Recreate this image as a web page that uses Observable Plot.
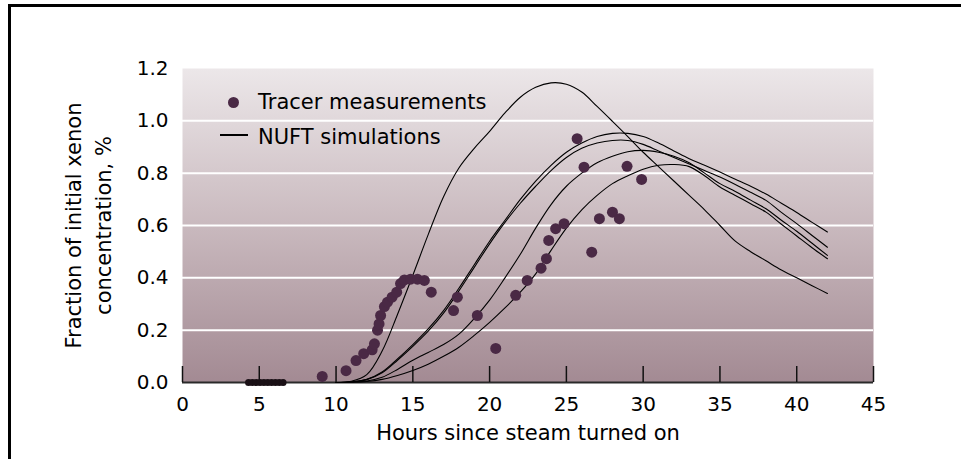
<!DOCTYPE html>
<html>
<head>
<meta charset="utf-8">
<script src="https://cdn.jsdelivr.net/npm/d3@7"></script>
<script src="https://cdn.jsdelivr.net/npm/@observablehq/plot@0.6"></script>
<style>
  html, body { margin: 0; padding: 0; background: #fff; overflow: hidden; }
  #wrap { position: relative; width: 961px; height: 459px; }
  #wrap svg { position: absolute; left: 0; top: 0; }
  .border { position: absolute; left: 8px; top: 4px; width: 2000px; height: 2000px;
            border-top: 3px solid #000; border-left: 3px solid #000; pointer-events: none; }
  .lg { position: absolute; font-family: "DejaVu Sans", sans-serif; font-size: 21px; line-height: 21px; color: #000; white-space: nowrap; }
  .lg-dot { position: absolute; width: 11px; height: 11px; border-radius: 50%; background: #4a2945; }
  .lg-line { position: absolute; height: 2px; background: #000; }
</style>
</head>
<body>
<div id="wrap"></div>
<script>
// ---- axis ticks / categories ----
const xTicks = [0, 5, 10, 15, 20, 25, 30, 35, 40, 45];
const yTicks = [0, 0.2, 0.4, 0.6, 0.8, 1.0, 1.2];
const gridValues = [0.2, 0.4, 0.6, 0.8, 1.0];

// ---- tracer measurements ----
const tracerHours = [9.1, 10.65, 11.3, 11.8, 12.35, 12.5, 12.7, 12.8, 12.9, 13.15, 13.35, 13.65, 13.95, 14.2, 14.45, 14.85, 15.3, 15.75, 16.2, 17.65, 17.9, 19.2, 20.4, 21.7, 22.45, 23.35, 23.7, 23.85, 24.3, 24.85, 25.7, 26.15, 26.65, 27.15, 28.0, 28.45, 28.95, 29.9];
const tracerValues = [0.023, 0.045, 0.084, 0.11, 0.125, 0.148, 0.2, 0.224, 0.256, 0.29, 0.307, 0.326, 0.345, 0.378, 0.392, 0.395, 0.395, 0.39, 0.345, 0.275, 0.326, 0.256, 0.13, 0.333, 0.39, 0.437, 0.473, 0.543, 0.588, 0.607, 0.932, 0.823, 0.498, 0.626, 0.651, 0.626, 0.826, 0.776];
// readings at zero before the steam front arrived
const zeroHours = [4.3, 4.55, 4.8, 5.05, 5.3, 5.55, 5.8, 6.05, 6.3, 6.55];

// ---- NUFT simulations ----
const simHours = [10, 11, 12, 13, 14, 15, 16, 17, 18, 19, 20, 21, 22, 23, 24, 25, 26, 27, 28, 29, 30, 31, 32, 33, 34, 35, 36, 37, 38, 39, 40, 41, 42];
const simA = [0, 0.005, 0.03, 0.12, 0.26, 0.41, 0.565, 0.71, 0.82, 0.895, 0.96, 1.03, 1.09, 1.128, 1.145, 1.14, 1.11, 1.055, 0.998, 0.94, 0.88, 0.825, 0.77, 0.715, 0.66, 0.6, 0.54, 0.5, 0.465, 0.43, 0.4, 0.37, 0.34];
const simB = [0, 0.003, 0.012, 0.04, 0.09, 0.145, 0.205, 0.275, 0.36, 0.45, 0.54, 0.62, 0.7, 0.77, 0.83, 0.88, 0.915, 0.94, 0.952, 0.952, 0.94, 0.915, 0.885, 0.855, 0.83, 0.804, 0.777, 0.75, 0.72, 0.685, 0.65, 0.612, 0.575];
const simC = [0, 0.003, 0.011, 0.037, 0.085, 0.138, 0.196, 0.265, 0.35, 0.44, 0.53, 0.612, 0.685, 0.75, 0.81, 0.86, 0.895, 0.915, 0.925, 0.925, 0.91, 0.885, 0.86, 0.835, 0.81, 0.785, 0.757, 0.727, 0.696, 0.65, 0.607, 0.562, 0.517];
const simD = [0, 0.002, 0.006, 0.02, 0.05, 0.085, 0.115, 0.145, 0.185, 0.245, 0.315, 0.4, 0.49, 0.59, 0.68, 0.75, 0.8, 0.84, 0.865, 0.882, 0.887, 0.88, 0.865, 0.84, 0.8, 0.76, 0.73, 0.697, 0.664, 0.62, 0.578, 0.532, 0.486];
const simE = [0, 0.001, 0.004, 0.012, 0.027, 0.046, 0.07, 0.1, 0.135, 0.18, 0.23, 0.285, 0.345, 0.415, 0.505, 0.59, 0.66, 0.715, 0.76, 0.79, 0.815, 0.83, 0.833, 0.825, 0.79, 0.747, 0.715, 0.683, 0.651, 0.605, 0.56, 0.515, 0.473];

const tracerRows = tracerHours.map((h, i) => ({hour: h, value: tracerValues[i]}));
const zeroRows = zeroHours.map(h => ({hour: h, value: 0}));
const simRows = [];
[["A", simA], ["B", simB], ["C", simC], ["D", simD], ["E", simE]].forEach(([run, vals]) => {
  simHours.forEach((h, i) => simRows.push({run, hour: h, value: vals[i]}));
});

const W = 961, H = 459, mT = 68, mB = 77, mL = 182, mR = 88;
const innerH = H - mT - mB;

const svg = Plot.plot({
  width: W, height: H,
  marginTop: mT, marginBottom: mB, marginLeft: mL, marginRight: mR,
  style: {fontFamily: "DejaVu Sans, sans-serif", fontSize: "20px", background: "transparent", color: "#000", overflow: "visible"},
  x: {domain: [0, 45], ticks: xTicks, tickSize: 0, tickPadding: 14, label: null},
  y: {domain: [0, 1.2], ticks: yTicks, tickSize: 0, tickPadding: 14, tickFormat: d3.format(".1f"), label: null},
  marks: [
    Plot.frame({fill: "url(#bgGrad)", stroke: "none"}),
    Plot.ruleY(gridValues, {stroke: "#ffffff", strokeWidth: 2}),
    Plot.ruleY([0], {stroke: "#2a2a2a", strokeWidth: 2}),
    Plot.tickX(xTicks, {x: d => d, stroke: "#111", strokeWidth: 1.5, insetTop: innerH - 16}),
    Plot.line(simRows, {x: "hour", y: "value", z: "run", stroke: "#000", strokeWidth: 1.1, curve: "catmull-rom"}),
    Plot.dot(zeroRows, {x: "hour", y: "value", r: 3.5, fill: "#1a1016"}),
    Plot.dot(tracerRows, {x: "hour", y: "value", r: 5.5, fill: "#4a2945"}),
    Plot.text(["Fraction of initial xenon\nconcentration, %"], {text: d => d, frameAnchor: "left", textAnchor: "middle", lineAnchor: "middle", rotate: -90, dx: -96, fontSize: 21, lineHeight: 1.45, fill: "#000"}),
    Plot.text(["Hours since steam turned on"], {text: d => d, frameAnchor: "bottom", textAnchor: "middle", lineAnchor: "middle", dy: 51, fontSize: 21, fill: "#000"})
  ]
});

// gradient background for the plot frame
const ns = "http://www.w3.org/2000/svg";
const defs = document.createElementNS(ns, "defs");
const grad = document.createElementNS(ns, "linearGradient");
grad.setAttribute("id", "bgGrad");
grad.setAttribute("x1", "0"); grad.setAttribute("y1", "0");
grad.setAttribute("x2", "0"); grad.setAttribute("y2", "1");
[["0", "#ece7e9"], ["0.5", "#c9b9be"], ["1", "#a38a93"]].forEach(([o, c]) => {
  const s = document.createElementNS(ns, "stop");
  s.setAttribute("offset", o); s.setAttribute("stop-color", c);
  grad.appendChild(s);
});
defs.appendChild(grad);
svg.insertBefore(defs, svg.firstChild);

const wrap = document.getElementById("wrap");
wrap.appendChild(svg);

// legend
const legendItems = [
  {label: "Tracer measurements", kind: "dot"},
  {label: "NUFT simulations", kind: "line"}
];
legendItems.forEach((item, i) => {
  const top = 92 + i * 35;
  if (item.kind === "dot") {
    const d = document.createElement("div");
    d.className = "lg-dot";
    d.style.left = "228px"; d.style.top = (top + 5) + "px";
    wrap.appendChild(d);
  } else {
    const l = document.createElement("div");
    l.className = "lg-line";
    l.style.left = "220px"; l.style.top = (top + 7) + "px"; l.style.width = "28px";
    wrap.appendChild(l);
  }
  const t = document.createElement("div");
  t.className = "lg";
  t.style.left = "258px"; t.style.top = top + "px";
  t.textContent = item.label;
  wrap.appendChild(t);
});

const b = document.createElement("div");
b.className = "border";
wrap.appendChild(b);
</script>
</body>
</html>
